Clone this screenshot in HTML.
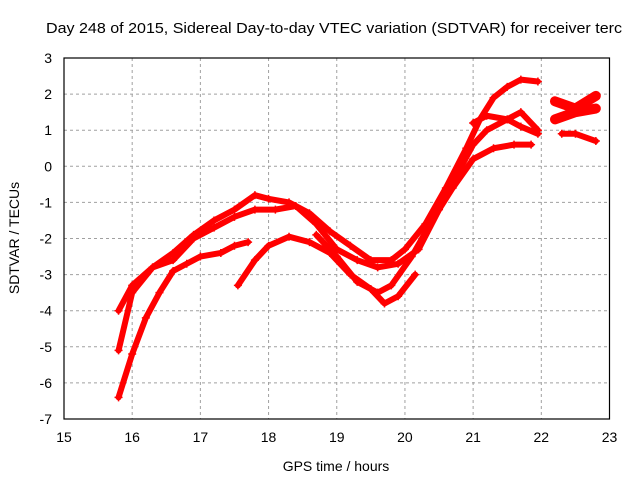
<!DOCTYPE html>
<html><head><meta charset="utf-8"><style>
body{margin:0;background:#fff}
svg{display:block;font-family:"Liberation Sans",sans-serif}
</style></head><body>
<svg id="chart" width="640" height="480" xmlns="http://www.w3.org/2000/svg">
<rect width="640" height="480" fill="#fff"/>
<text x="46" y="33" font-size="15" textLength="576" lengthAdjust="spacingAndGlyphs" fill="#000">Day 248 of 2015, Sidereal Day-to-day VTEC variation (SDTVAR) for receiver terc</text>
<g id="grid"></g>
<g id="series"></g>
<rect x="64" y="58" width="545.5" height="361" fill="none" stroke="#000" stroke-width="1.2"/>
<g id="ticks"></g>
<text x="336" y="471" font-size="14" text-anchor="middle">GPS time / hours</text>
<text transform="translate(19,238) rotate(-90)" font-size="14" text-anchor="middle">SDTVAR / TECUs</text>
</svg>
<script>
const xTicks=[15,16,17,18,19,20,21,22,23];
const yTicks=[3,2,1,0,-1,-2,-3,-4,-5,-6,-7];
const seriesA=[[15.8,-4.0],[16.0,-3.3],[16.3,-2.8],[16.6,-2.4],[16.9,-1.9],[17.2,-1.5],[17.5,-1.2],[17.8,-0.8],[18.0,-0.9],[18.3,-1.0],[18.6,-1.3],[18.9,-1.8],[19.2,-2.2],[19.5,-2.6],[19.8,-2.6],[20.0,-2.3],[20.3,-1.6],[20.6,-0.6],[20.9,0.5],[21.1,1.3],[21.3,1.9],[21.5,2.2],[21.7,2.4],[21.95,2.35]];
const seriesB=[[15.8,-5.1],[16.0,-3.5],[16.3,-2.8],[16.6,-2.6],[16.9,-2.0],[17.2,-1.7],[17.5,-1.4],[17.8,-1.2],[18.1,-1.2],[18.4,-1.1],[18.7,-1.6],[19.0,-2.3],[19.3,-2.6],[19.6,-2.8],[19.9,-2.7],[20.2,-2.3],[20.5,-1.2],[20.8,-0.1],[21.0,0.6],[21.2,1.0],[21.5,1.3],[21.7,1.5],[21.95,1.0]];
const seriesC=[[15.8,-6.4],[16.0,-5.2],[16.2,-4.2],[16.4,-3.5],[16.6,-2.9],[16.8,-2.7],[17.0,-2.5],[17.3,-2.4],[17.5,-2.2],[17.7,-2.1]];
const seriesD=[[17.55,-3.3],[17.8,-2.6],[18.0,-2.2],[18.3,-1.95],[18.6,-2.1],[18.9,-2.4],[19.2,-3.0],[19.5,-3.4],[19.7,-3.8],[19.9,-3.6],[20.15,-3.0]];
const seriesE=[[18.7,-1.9],[19.0,-2.5],[19.3,-3.2],[19.6,-3.5],[19.8,-3.3],[20.1,-2.5],[20.4,-1.5],[20.7,-0.6],[21.0,0.2],[21.3,0.5],[21.6,0.6],[21.85,0.6]];
const seriesF=[[21.0,1.2],[21.2,1.4],[21.5,1.3],[21.7,1.1],[21.95,0.9]];
const seriesG=[[22.2,1.8],[22.5,1.6],[22.8,1.95]];
const seriesH=[[22.2,1.3],[22.5,1.5],[22.8,1.6]];
const seriesI=[[22.3,0.9],[22.5,0.9],[22.8,0.7]];
const allSeries=[seriesA,seriesB,seriesC,seriesD,seriesE,seriesF,seriesG,seriesH,seriesI];
const NS="http://www.w3.org/2000/svg";
const X=h=>64+(h-15)*545.5/8;
const Y=v=>58+(3-v)*361/10;
const grid=document.getElementById('grid'),ticks=document.getElementById('ticks'),ser=document.getElementById('series');
function mk(t,a,p){const e=document.createElementNS(NS,t);for(const k in a)e.setAttribute(k,a[k]);p.appendChild(e);return e;}
xTicks.forEach(t=>{
 if(t>15&&t<23){const g=mk('line',{x1:X(t),x2:X(t),y1:58,y2:419,stroke:'#a0a0a0','stroke-dasharray':'3,3'},grid);
 
 }
 const l=mk('text',{x:X(t),y:442,'font-size':14,'text-anchor':'middle'},ticks);l.textContent=t;
 
 
});
yTicks.forEach(t=>{
 if(t<3&&t>-7){const g=mk('line',{x1:64,x2:609.5,y1:Y(t),y2:Y(t),stroke:'#a0a0a0','stroke-dasharray':'3,3'},grid);
 
 }
 const l=mk('text',{x:52,y:Y(t)+5,'font-size':14,'text-anchor':'end'},ticks);l.textContent=t;
 
 
});
allSeries.forEach((s,i)=>{
 const g=mk('g',{},ser);
 
 
 const w=(i===6||i===7)?10:6;
 mk('polyline',{points:s.map(p=>X(p[0])+','+Y(p[1])).join(' '),fill:'none',stroke:'#f00','stroke-width':w,'stroke-linejoin':'round','stroke-linecap':'round'},g);
 s.forEach(p=>{
  const m=mk('path',{d:`M${X(p[0])-4},${Y(p[1])}h8M${X(p[0])},${Y(p[1])-4}v8`,stroke:'#f00','stroke-width':1.5},g);
  
  
 });
});
</script>
</body></html>
